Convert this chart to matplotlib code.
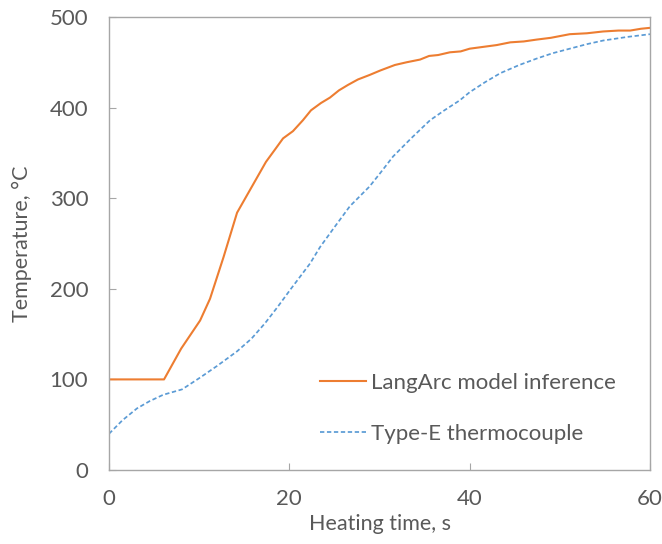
import numpy as np
import matplotlib.pyplot as plt

# LangArc model inference (orange)
model_t = [0, 2, 4, 6.1, 8.0, 10.1, 11.2, 12.7, 14.2, 15.8, 17.4, 18.5, 19.3, 20.4,
           21.5, 22.4, 23.5, 24.5, 25.5, 26.5, 27.6, 28.9, 30.1, 31.7, 33.0, 34.5,
           35.5, 36.5, 37.8, 39.0, 40.0, 41.5, 43.0, 44.5, 46.0, 47.4, 49.0, 51.1,
           53.0, 54.8, 56.5, 57.8, 59.0, 60.0]
model_T = [100, 100, 100, 100, 134, 165, 189, 235, 284, 312, 340, 355, 366, 374,
           386, 397, 405, 411, 419, 425, 431, 436, 441, 447, 450, 453,
           457, 458, 461, 462, 465, 467, 469, 472, 473, 475, 477, 481,
           482, 484, 485, 485, 487, 488]

# Type-E thermocouple (blue dashed)
tc_t = [0, 1.5, 3.1, 4.5, 6.0, 8.1, 10.1, 12.0, 14.2, 15.8, 17.3, 18.7, 20.1, 22.3,
        23.4, 25.0, 26.7, 28.9, 30.1, 31.5, 33.5, 35.6, 37.2, 38.9, 40.0, 41.7,
        43.4, 45.5, 47.4, 49.2, 51.1, 53.0, 54.8, 57.5, 60.0]
tc_T = [40, 55, 68, 76, 83, 89, 102, 115, 131, 145, 162, 180, 199, 228,
        246, 268, 291, 313, 328, 346, 366, 386, 397, 408, 417, 428,
        438, 447, 454, 460, 465, 470, 474, 478, 481]

fams = ['Lato', 'DejaVu Sans']
plt.rcParams['font.family'] = fams
grey = '#595959'

fig = plt.figure(figsize=(6.62, 5.44), dpi=100)
ax = fig.add_axes([0.1647, 0.136, 0.8172, 0.8328])

ax.plot(model_t, model_T, color='#ED7D31', lw=1.5, label='LangArc model inference')
ax.plot(tc_t, tc_T, color='#5B9BD5', lw=1.25, ls=(0, (2.5, 1.5)), label='Type-E thermocouple')

ax.set_xlim(0, 60)
ax.set_ylim(0, 500)
ax.set_xticks([0, 20, 40, 60])
ax.set_yticks(np.arange(0, 501, 100))
ax.tick_params(direction='in', length=5, color='#a6a6a6', labelcolor=grey,
               labelsize=16)
ax.tick_params(axis='x', pad=14)
ax.tick_params(axis='y', pad=15)
for s in ax.spines.values():
    s.set_color('#a6a6a6')
    s.set_linewidth(1.0)

ax.set_xlabel('Heating time, s', color=grey, fontsize=15.5, labelpad=3)
ax.set_ylabel('Temperature, °C', color=grey, fontsize=15.5, labelpad=13)

leg = ax.legend(loc='upper left', bbox_to_anchor=(320 / 662, 1 - 373 / 544),
                bbox_transform=fig.transFigure, frameon=False,
                handlelength=2.05, handletextpad=0.25, labelspacing=1.38, borderpad=0,
                borderaxespad=0, prop={'family': fams, 'size': 16})
for t in leg.get_texts():
    t.set_color(grey)

fig.savefig('out.png', dpi=100)
